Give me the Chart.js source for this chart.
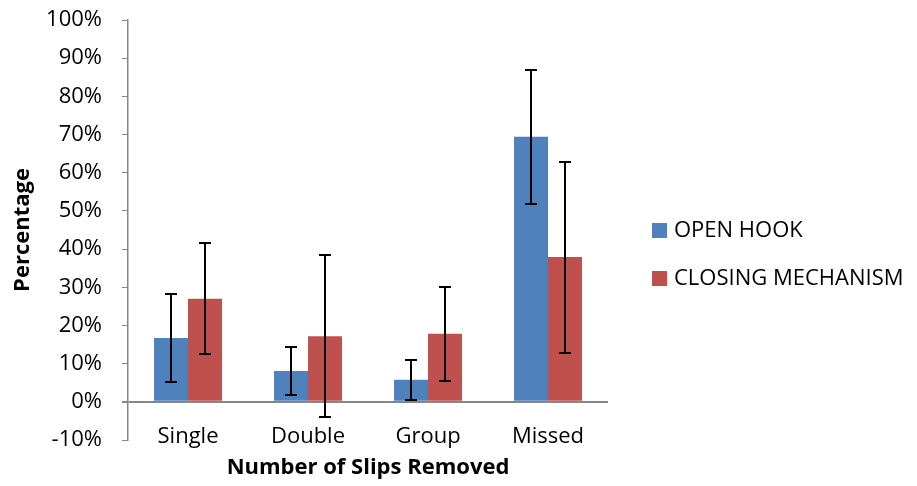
<!DOCTYPE html>
<html>
<head>
<meta charset="utf-8">
<script src="https://cdn.jsdelivr.net/npm/chart.js@4.4.1/dist/chart.umd.min.js"></script>
<style>
  body { margin: 0; background: #fff; }
  #wrap { width: 917px; height: 486px; }
</style>
</head>
<body>
<div id="wrap"><canvas id="slips_chart" width="917" height="486"></canvas></div>
<script>
var categories = ["Single", "Double", "Group", "Missed"];
var openHook = [16.7, 8.1, 5.8, 69.4];
var openHookErr = [11.5, 6.2, 5.2, 17.5];
var closing = [27.0, 17.2, 17.8, 37.9];
var closingErr = [14.6, 21.3, 12.3, 25.0];
var yTicks = [-10, 0, 10, 20, 30, 40, 50, 60, 70, 80, 90, 100];

var fontName = "'Open Sans', sans-serif";
var fontSize = 22;
var axisGray = "#868686";

// error bars on top of each bar
var errorBars = {
  id: 'errorBars',
  afterDatasetsDraw: function(chart) {
    var ctx = chart.ctx;
    var yScale = chart.scales.y;
    var errs = [openHookErr, closingErr];
    ctx.save();
    ctx.strokeStyle = "#000";
    ctx.lineWidth = 2;
    chart.data.datasets.forEach(function(ds, d) {
      var meta = chart.getDatasetMeta(d);
      meta.data.forEach(function(bar, i) {
        var v = ds.data[i];
        var top = Math.round(yScale.getPixelForValue(v + errs[d][i]));
        var bot = Math.round(yScale.getPixelForValue(v - errs[d][i]));
        var x = Math.round(bar.x);
        ctx.beginPath();
        ctx.moveTo(x, top); ctx.lineTo(x, bot);
        ctx.moveTo(x - 6, top); ctx.lineTo(x + 6, top);
        ctx.moveTo(x - 6, bot); ctx.lineTo(x + 6, bot);
        ctx.stroke();
      });
    });
    ctx.restore();
  }
};

// category labels sit a little above the bottom of the y axis, so draw them here
var catLabels = {
  id: 'catLabels',
  afterDraw: function(chart) {
    var ctx = chart.ctx;
    var xScale = chart.scales.x;
    var area = chart.chartArea;
    ctx.save();
    ctx.font = fontSize + "px " + fontName;
    ctx.textAlign = 'center';
    ctx.textBaseline = 'middle';
    ctx.fillStyle = "#000";
    categories.forEach(function(c, i) {
      ctx.fillText(c, xScale.getPixelForValue(i), area.bottom - 3);
    });
    ctx.restore();
  }
};

// legend on the right, like the excel one
var sideLegend = {
  id: 'sideLegend',
  afterDraw: function(chart) {
    var ctx = chart.ctx;
    var area = chart.chartArea;
    var x = area.right + 44;
    var y0 = (area.top + area.bottom) / 2;
    ctx.save();
    ctx.font = fontSize + "px " + fontName;
    ctx.textBaseline = 'middle';
    chart.data.datasets.forEach(function(ds, i) {
      var cy = y0 + i * 48;
      ctx.fillStyle = ds.backgroundColor;
      ctx.fillRect(x, cy - 7, 15, 15);
      ctx.fillStyle = "#000";
      ctx.fillText(ds.label, x + 22, cy + 1);
    });
    ctx.restore();
  }
};

var ctx = document.getElementById("slips_chart").getContext('2d');
var slipsChart = new Chart(ctx, {
  type: 'bar',
  data: {
    labels: categories,
    datasets: [{
      label: "OPEN HOOK",
      data: openHook,
      backgroundColor: "#4F81BD",
      borderWidth: 0
    }, {
      label: "CLOSING MECHANISM",
      data: closing,
      backgroundColor: "#C0504D",
      borderWidth: 0
    }]
  },
  options: {
    responsive: false,
    animation: false,
    layout: { padding: { top: 20, bottom: 0, left: 10, right: 309 } },
    datasets: { bar: { categoryPercentage: 0.567, barPercentage: 1.0 } },
    plugins: {
      tooltip: { enabled: false },
      legend: { display: false }
    },
    scales: {
      x: {
        grid: { display: false },
        border: { display: false },
        ticks: { display: false },
        afterFit: function(axis) { axis.height = 46; axis.paddingLeft = 0; axis.paddingRight = 0; },
        title: {
          display: true,
          text: "Number of Slips Removed",
          color: "#000",
          padding: { top: 0, bottom: 5 },
          font: { family: fontName, size: fontSize, weight: 'bold' }
        }
      },
      y: {
        min: -10,
        max: 100,
        afterBuildTicks: function(axis) {
          axis.ticks = yTicks.map(function(v) { return { value: v }; });
        },
        afterFit: function(axis) { axis.width = 118; axis.paddingTop = 0; axis.paddingBottom = 0; },
        border: { display: true, color: axisGray, width: 1.5 },
        grid: {
          drawOnChartArea: true,
          color: function(c) { return c.tick && c.tick.value === 0 ? axisGray : 'rgba(0,0,0,0)'; },
          lineWidth: function(c) { return c.tick && c.tick.value === 0 ? 2 : 1; },
          tickColor: axisGray,
          tickLength: 6
        },
        ticks: {
          color: "#000",
          padding: 20,
          font: { family: fontName, size: fontSize },
          callback: function(v) { return v + '%'; }
        },
        title: {
          display: true,
          text: "Percentage",
          color: "#000",
          padding: { top: 0, bottom: 4 },
          font: { family: fontName, size: fontSize, weight: 'bold' }
        }
      }
    }
  },
  plugins: [errorBars, catLabels, sideLegend]
});
</script>
</body>
</html>
